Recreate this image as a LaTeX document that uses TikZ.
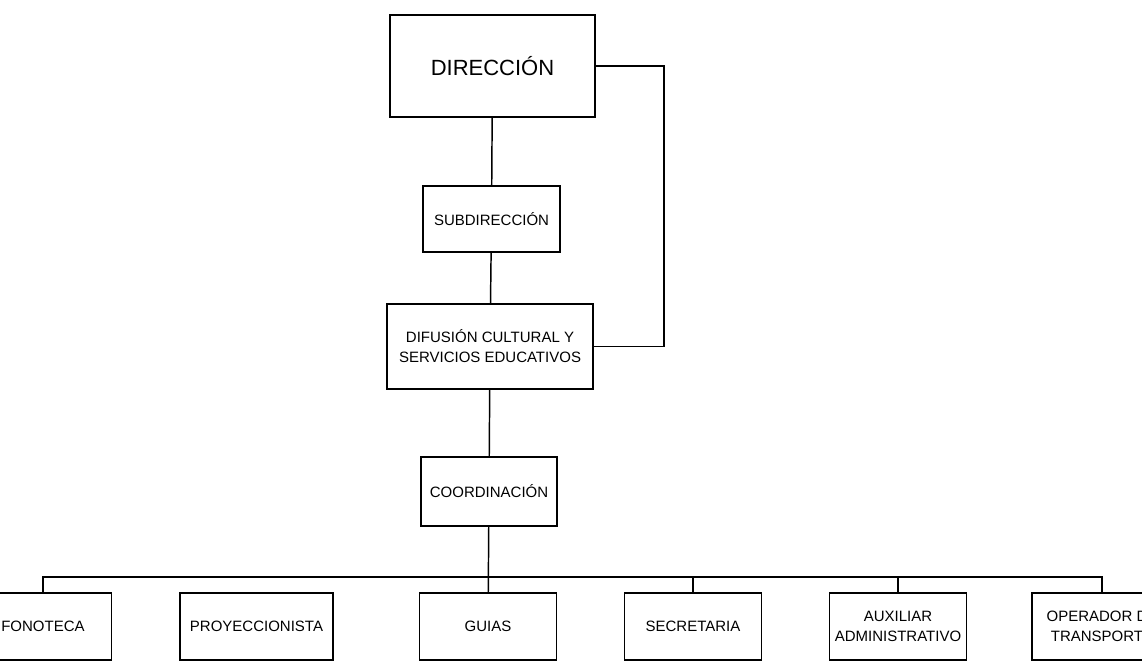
\documentclass[tikz,border=0pt]{standalone}
\usepackage{fontspec}
\setmainfont{Liberation Sans}
\usetikzlibrary{positioning}

\begin{document}
\begin{tikzpicture}[x=0.75pt, y=-0.75pt, line width=1.1pt,
    caja/.style={draw, line width=1.4pt, inner sep=0pt, align=center,
        font=\fontsize{11.25}{15}\selectfont},
    puesto/.style={caja, minimum width=102.75pt, minimum height=50.25pt}]
    % 画布范围
    \useasboundingbox (0, 0) rectangle (1142, 662);
    \clip (0, 0) rectangle (1142, 662);

    % 上层方框
    \node[caja, minimum width=153.75pt, minimum height=76.5pt,
        font=\fontsize{16.5}{20}\selectfont] (dir) at (492.5, 66) {DIRECCIÓN};
    \node[caja, minimum width=102.75pt, minimum height=49.5pt] (sub) at (491.5, 219) {SUBDIRECCIÓN};
    \node[caja, minimum width=154.5pt, minimum height=63.75pt] (dif) at (490, 346.5)
        {DIFUSIÓN CULTURAL Y\\SERVICIOS EDUCATIVOS};
    \node[caja, minimum width=102pt, minimum height=51.75pt] (coord) at (489, 491.5) {COORDINACIÓN};

    % 竖向连线及右侧回路
    \draw (dir) -- (sub);
    \draw (sub) -- (dif);
    \draw (dif) -- (coord);
    \draw (dir.east) -- ++(68, 0) |- (dif.east);

    % 下层方框
    \node[puesto] (fono) at (43, 626.5) {FONOTECA};
    \node[puesto, minimum width=114.75pt] (proy) at (256.5, 626.5) {PROYECCIONISTA};
    \node[puesto] (guias) at (488, 626.5) {GUIAS};
    \node[puesto] (secr) at (693, 626.5) {SECRETARIA};
    \node[puesto] (aux) at (898, 626.5) {AUXILIAR\\ADMINISTRATIVO};
    \node[puesto, minimum width=105pt] (oper) at (1102, 626.5) {OPERADOR DE\\TRANSPORTE};

    % 横向总线
    \coordinate (bus) at (488, 577);
    \draw (coord) -- (guias);
    \draw (fono.north) |- (bus) -| (oper.north);
    \draw (secr.north) -- (secr.north |- bus);
    \draw (aux.north) -- (aux.north |- bus);
\end{tikzpicture}
\end{document}
